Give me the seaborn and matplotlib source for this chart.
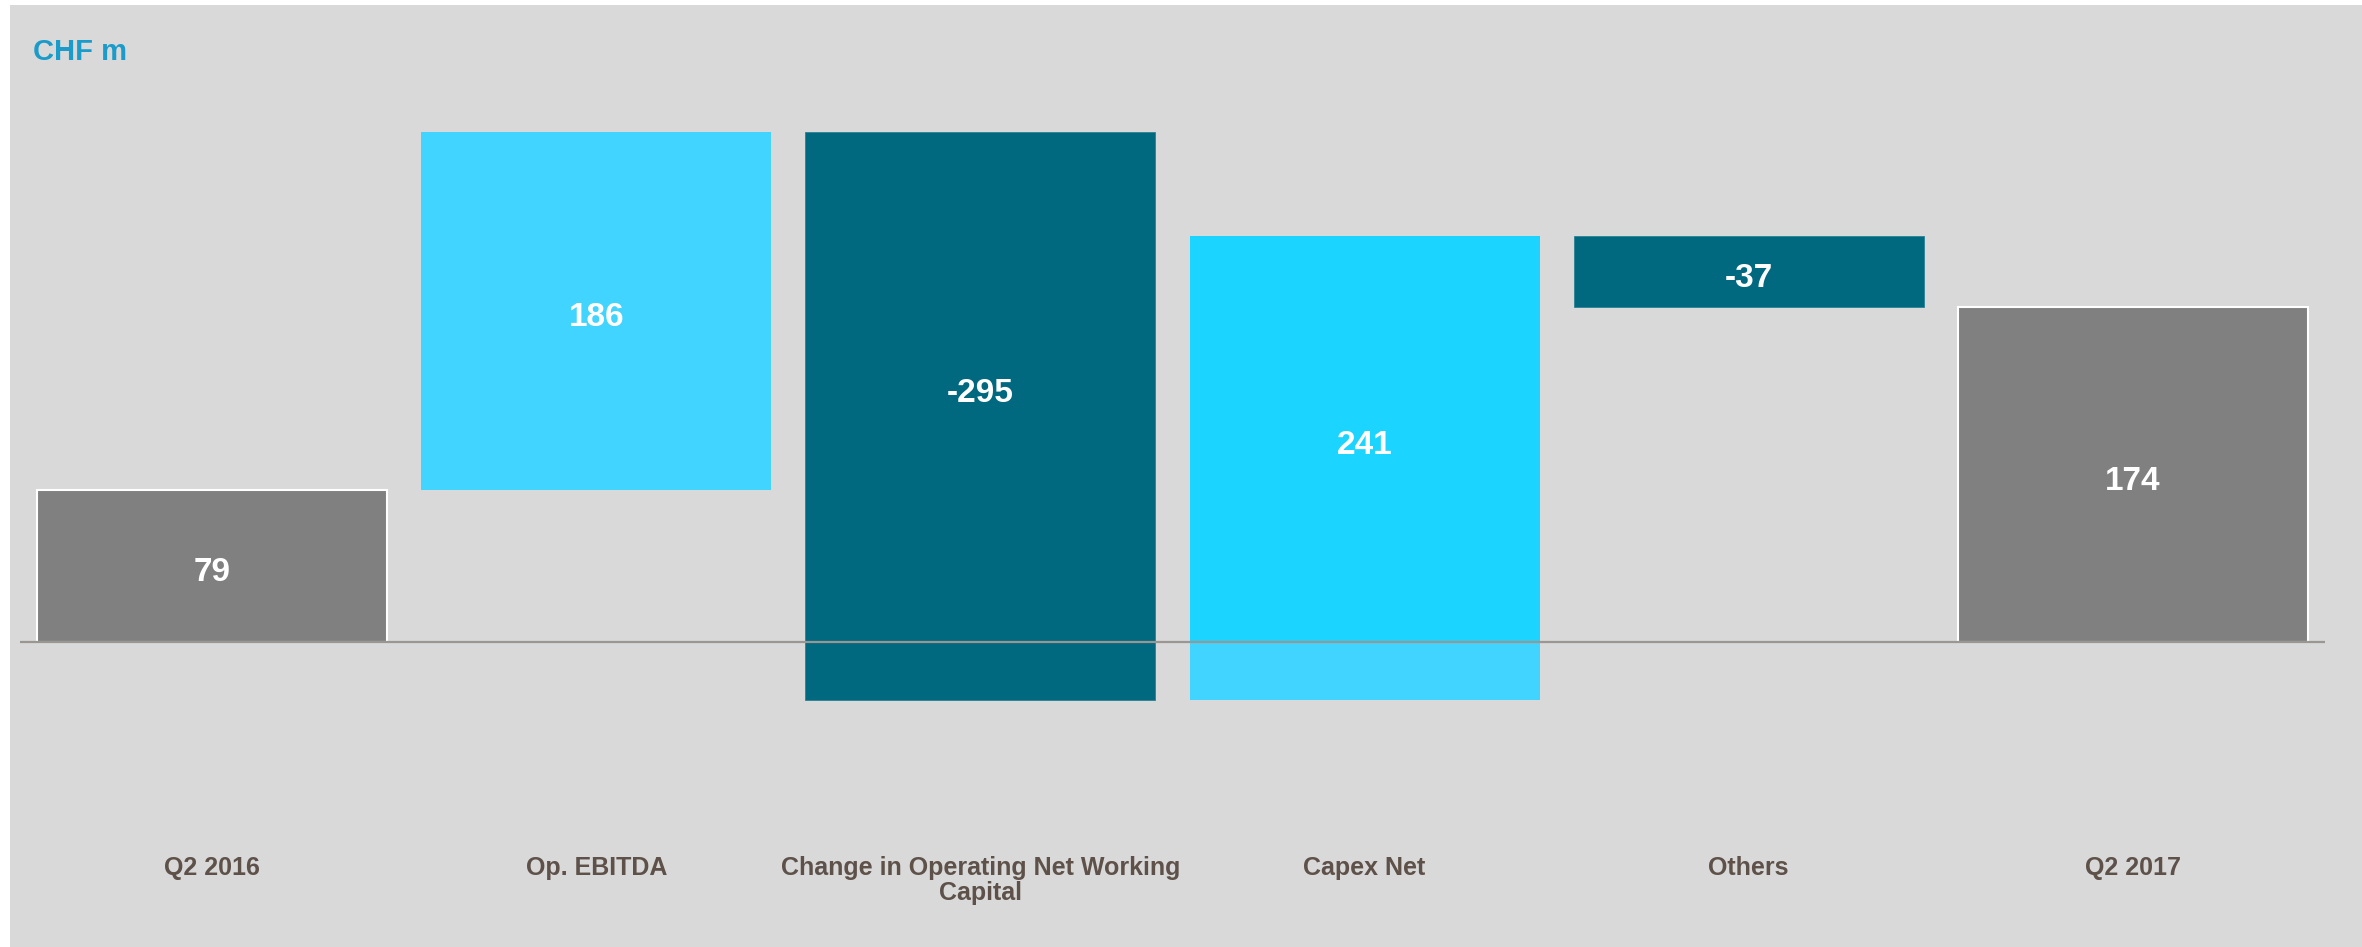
import numpy as np
import pandas as pd
import matplotlib
matplotlib.use("Agg")
import matplotlib.pyplot as plt
import matplotlib.transforms as mtransforms
from matplotlib.patches import Rectangle
import seaborn as sns

# Cash-flow bridge, CHF m
categories = ["Q2 2016", "Op. EBITDA", "Change in Operating Net Working\nCapital",
              "Capex Net", "Others", "Q2 2017"]
values = [79, 186, -295, 241, -37, 174]
kinds = ["total", "delta", "delta", "delta", "delta", "total"]

GRAY = "#808080"
LIGHT = "#41D4FF"
CYAN = "#1BD4FF"
TEAL = "#00687F"
bar_colors = [GRAY, LIGHT, TEAL, CYAN, TEAL, GRAY]
below_zero_colors = [GRAY, LIGHT, TEAL, LIGHT, TEAL, GRAY]

# waterfall bounds
lo, hi = [], []
running = 0
for v, k in zip(values, kinds):
    if k == "total":
        a, b = 0, v
        running = v
    else:
        a, b = running, running + v
        running += v
    lo.append(min(a, b))
    hi.append(max(a, b))

upper = pd.DataFrame({
    "cat": categories,
    "lo": [max(l, 0) for l in lo],
    "hi": [max(h, 0) for h in hi],
})
upper["h"] = upper["hi"] - upper["lo"]
lower = pd.DataFrame({
    "cat": categories,
    "lo": [min(l, 0) for l in lo],
    "hi": [min(h, 0) for h in hi],
})
lower["h"] = lower["hi"] - lower["lo"]
lower = lower[lower["h"] > 0]

sns.set_theme(style="white")
plt.rcParams["font.family"] = ["Liberation Sans", "DejaVu Sans"]

W, H = 2362, 947
fig = plt.figure(figsize=(W / 100, H / 100), dpi=100, facecolor="white")
fig.patches.append(Rectangle((10 / W, 0), 1 - 10 / W, 1 - 5 / H,
                             transform=fig.transFigure, facecolor="#D9D9D9",
                             edgecolor="none", zorder=-10))

ax = fig.add_axes([20 / W, (H - 800) / H, 2305 / W, 700 / H])
ax.set_facecolor("none")

pal_up = dict(zip(categories, bar_colors))
pal_dn = dict(zip(categories, below_zero_colors))

sns.barplot(data=upper, x="cat", y="h", hue="cat", order=categories,
            hue_order=categories, palette=pal_up, dodge=False, legend=False,
            width=0.911, saturation=1, ax=ax, linewidth=0)
n_up = len(ax.patches)
sns.barplot(data=lower, x="cat", y="h", hue="cat", order=categories,
            hue_order=categories, palette=pal_dn, dodge=False, legend=False,
            width=0.911, saturation=1, ax=ax, linewidth=0)

for i, p in enumerate(ax.patches):
    idx = int(round(p.get_x() + p.get_width() / 2))
    src = upper if i < n_up else lower
    row = src[src["cat"] == categories[idx]]
    if len(row) == 0:
        continue
    p.set_y(float(row["lo"].iloc[0]))
    p.set_height(float(row["h"].iloc[0]))
    if bar_colors[idx] == GRAY:
        p.set_edgecolor("white")
        p.set_linewidth(1.5)
    elif bar_colors[idx] == TEAL:
        p.set_edgecolor("#2C8296")
        p.set_linewidth(0.6)

ax.axhline(0, color="#9C9692", lw=1.6, zorder=5)

# value labels, centred on the part of each bar above zero
label_shift = mtransforms.offset_copy(ax.transData, fig=fig, x=0, y=-3, units="dots")
for i, v in enumerate(values):
    if hi[i] > 0:
        y = (max(lo[i], 0) + hi[i]) / 2
    else:
        y = (lo[i] + hi[i]) / 2
    ax.text(i, y, f"{v:d}", ha="center", va="center_baseline", color="white",
            fontsize=24, fontweight="bold", zorder=6, transform=label_shift)

ax.set_xlim(-0.5, len(categories) - 0.5)
ax.set_ylim(-82.1, 281.7)
ax.set_xlabel("")
ax.set_ylabel("")
ax.set_yticks([])
ax.tick_params(axis="x", length=0, pad=40)
ax.set_xticks(range(len(categories)))
ax.set_xticklabels(categories, fontsize=18, fontweight="bold", color="#5E5149",
                   linespacing=1.1, ha="center", va="top")
for s in ax.spines.values():
    s.set_visible(False)

fig.text(33 / W, 1 - 60 / H, "CHF m", fontsize=21, fontweight="bold",
         color="#1A9BC9", ha="left", va="baseline")

fig.savefig("out.png", dpi=100, facecolor="white")
